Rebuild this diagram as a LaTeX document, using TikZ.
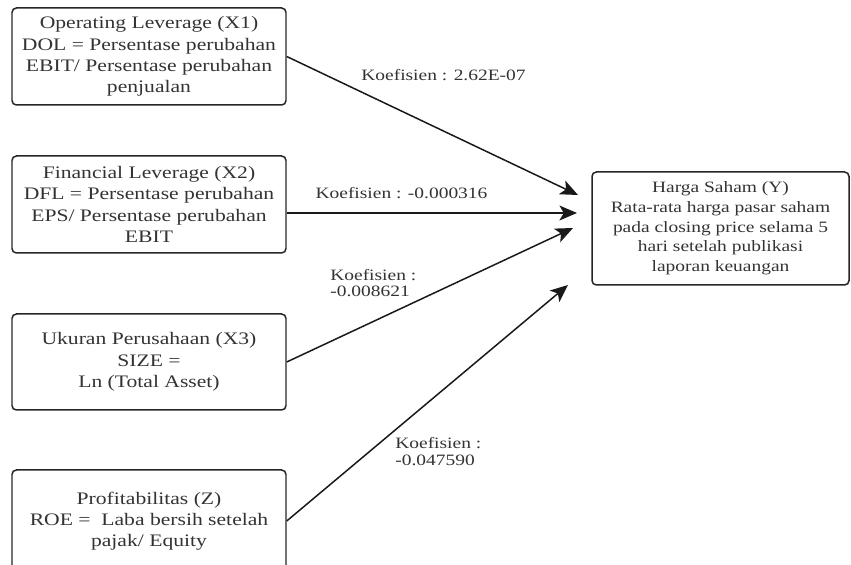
\documentclass[tikz,border=0pt]{standalone}
\usepackage{fontspec}
\setmainfont[FakeStretch=1.23]{Liberation Serif}
\usetikzlibrary{arrows.meta,positioning}
\definecolor{inkgray}{gray}{0.2}

\begin{document}
\begin{tikzpicture}[
  varbox/.style={draw=black!85,line width=0.85pt,rounded corners=2.5pt,align=center,
    text=inkgray,font=\fontsize{10}{12.1}\selectfont,minimum width=5.48cm,inner sep=2pt},
  coef/.style={text=inkgray,font=\fontsize{9}{9.5}\selectfont,align=left,inner sep=0pt},
  link/.style={-{Stealth[length=10pt,width=8.5pt,inset=2.5pt]},line width=0.85pt,black!90}]
  \useasboundingbox (0,0) rectangle (17.02,-11.30);
  % variables
  \node[varbox,minimum height=1.94cm] (X1) at (2.98,-1.13) {Operating Leverage (X1)\\DOL = Persentase perubahan\\EBIT/ Persentase perubahan\\penjualan};
  \node[varbox,minimum height=1.94cm] (X2) at (2.98,-4.09) {Financial Leverage (X2)\\DFL = Persentase perubahan\\EPS/ Persentase perubahan\\EBIT};
  \node[varbox,minimum height=1.92cm] (X3) at (2.98,-7.24) {Ukuran Perusahaan (X3)\\SIZE =\\Ln (Total Asset)};
  \node[varbox,minimum height=2.04cm] (Z) at (2.98,-10.42) {Profitabilitas (Z)\\ROE =\ \ Laba bersih setelah\\pajak/ Equity};
  \node[varbox,minimum width=5.14cm,minimum height=2.26cm,font=\fontsize{9}{11.2}\selectfont] (Y) at (14.41,-4.57) {Harga Saham (Y)\\Rata-rata harga pasar saham\\pada closing price selama 5\\hari setelah publikasi\\laporan keuangan};
  % arrow ends
  \coordinate (t1) at (11.56,-3.90);
  \coordinate (t2) at (11.54,-4.26);
  \coordinate (t3) at (11.46,-4.56);
  \coordinate (t4) at (11.36,-5.70);
  \draw[link] (X1.east) -- (t1);
  \draw[link] (X2.east |- t2) -- (t2);
  \draw[link] (X3.east) -- (t3);
  \draw[link] (Z.east) -- (t4);
  % coefficients
  \node[coef] (k1) at (8.87,-1.50) {Koefisien : 2.62E-07};
  \node[coef] (k2) at (8.03,-3.86) {Koefisien : -0.000316};
  \node[coef,anchor=west] (k3) at (6.60,-5.66) {Koefisien :\\-0.008621};
  \node[coef,anchor=west] (k4) at (7.90,-9.03) {Koefisien :\\-0.047590};
\end{tikzpicture}
\end{document}
